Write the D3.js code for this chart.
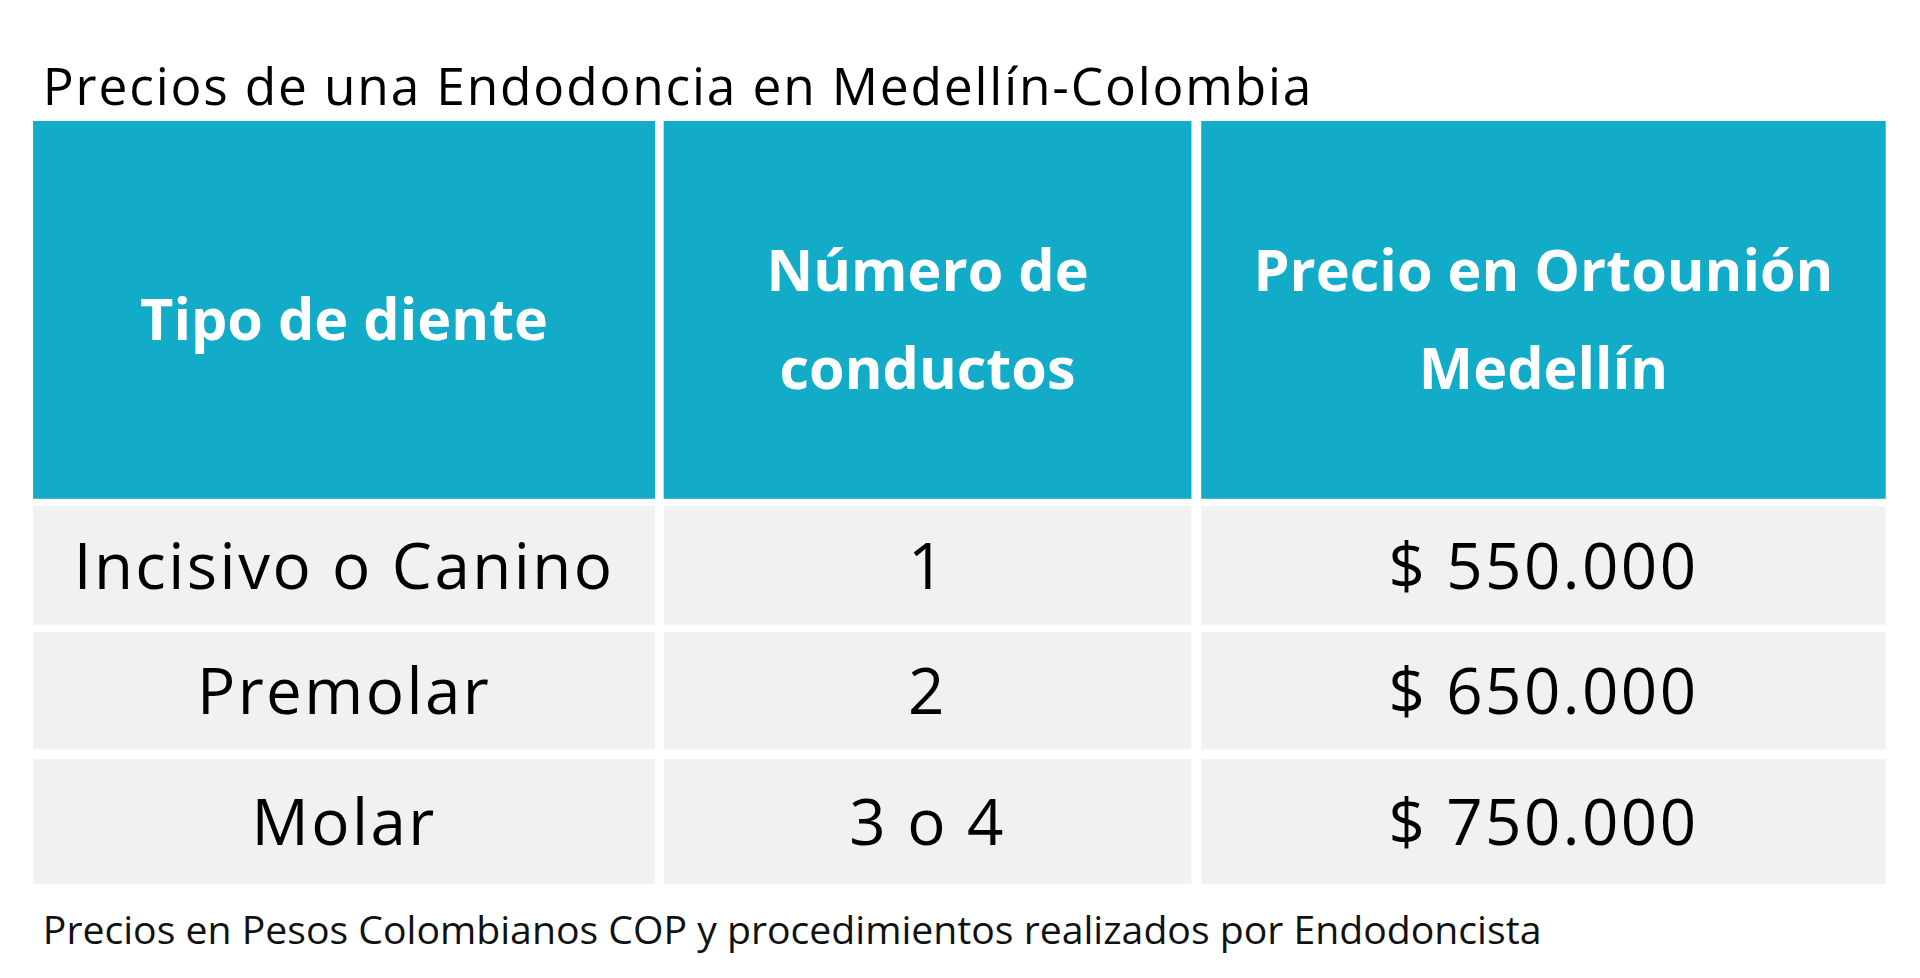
<!DOCTYPE html><html><head><meta charset="utf-8"><script src="https://cdn.jsdelivr.net/npm/d3@7"></script>
<style>body{margin:0;background:#fff}svg{display:block}</style></head><body><svg id="c"></svg><script>
const title="Precios de una Endodoncia en Medellín-Colombia";
const footer="Precios en Pesos Colombianos COP y procedimientos realizados por Endodoncista";
const headers=[["Tipo de diente"],["Número de","conductos"],["Precio en Ortounión","Medellín"]];
const tipos=["Incisivo o Canino","Premolar","Molar"];
const conductos=["1","2","3 o 4"];
const precios=["$ 550.000","$ 650.000","$ 750.000"];
const svg=d3.select("#c").attr("width",1920).attr("height",978).attr("viewBox","0 0 1568 800").attr("preserveAspectRatio","none");
const colX=[[27,535],[542,973],[981,1540]];
const rowY=[[414,511],[517,613],[621,723]];
const F="'Open Sans', sans-serif";
svg.append("text").attr("x",35).attr("y",86).attr("font-family",F).attr("font-size",42).attr("letter-spacing",1.5).attr("fill","#000").text(title);
colX.forEach((c,i)=>{
 svg.append("rect").attr("x",c[0]).attr("y",99).attr("width",c[1]-c[0]).attr("height",309).attr("fill","#12abc8");
 const lines=headers[i];const cx=(c[0]+c[1])/2;
 lines.forEach((l,j)=>svg.append("text").attr("x",cx).attr("y",(lines.length==1?278:238+j*80)).attr("text-anchor","middle").attr("font-family",F).attr("font-weight",700).attr("font-size",47).attr("fill","#fff").text(l));
});
const cols=[tipos,conductos,precios];
rowY.forEach((r,ri)=>colX.forEach((c,ci)=>{
 svg.append("rect").attr("x",c[0]).attr("y",r[0]).attr("width",c[1]-c[0]).attr("height",r[1]-r[0]).attr("fill","#f1f1f1");
 svg.append("text").attr("x",(c[0]+c[1])/2).attr("y",(r[0]+r[1])/2+19).attr("text-anchor","middle").attr("font-family",F).attr("font-size",52).attr("letter-spacing",2).attr("fill","#000").text(cols[ci][ri]);
}));
svg.append("text").attr("x",35).attr("y",772).attr("font-family",F).attr("font-size",32).attr("fill","#111").text(footer);
</script></body></html>
